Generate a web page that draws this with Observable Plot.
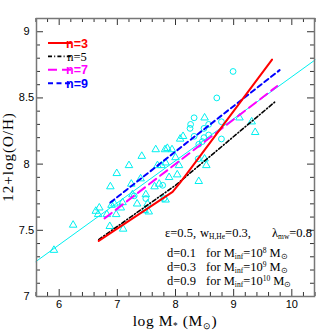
<!DOCTYPE html>
<html><head><meta charset="utf-8">
<script src="https://cdn.jsdelivr.net/npm/d3@7"></script>
<script src="https://cdn.jsdelivr.net/npm/@observablehq/plot@0.6"></script>
<style>body{margin:0;background:#fff}</style>
</head><body><div id="chart"></div>
<script>
// observed data: triangles and circles
const triX = [5.91,6.24,6.63,6.67,6.69,6.82,6.87,6.88,6.90,6.95,6.99,6.98,7.06,7.09,7.10,7.20,7.24,7.26,7.40,7.42,7.49,7.52,7.47,7.54,7.64,7.69,7.76,7.83,7.94,8.06,7.89,8.03,7.83,7.66,7.82,8.00,8.08,8.13,8.50,9.10,9.31,9.37,8.50,8.53,8.40,7.34,7.72,7.86];
const triY = [7.35,7.54,7.645,7.62,7.67,7.62,7.53,7.83,7.69,7.70,7.93,7.62,7.67,7.71,7.51,7.99,7.85,7.77,7.89,8.06,7.77,7.70,7.65,7.64,7.83,7.99,7.99,8.01,8.11,7.99,7.90,7.92,7.73,8.11,8.11,8.05,8.19,8.21,8.35,8.35,8.32,8.24,8.04,7.99,7.87,7.70,7.85,8.12];
const circX = [8.99,8.71,8.32,8.25,8.26,8.49,8.57,8.79,8.79,8.40,8.49,8.57,8.39,7.78,7.49,7.29,8.32,7.80,8.46];
const circY = [8.70,8.50,8.35,8.27,8.30,8.27,8.30,8.32,8.19,8.15,8.20,8.22,8.04,7.84,7.74,7.76,8.21,7.74,8.17];
// fit line
const fitX = [5.6, 10.4];
const fitY = [7.264, 8.787];
// model curves
const n3X = [6.68, 7.95, 8.08, 8.20, 9.66];
const n3Y = [7.42, 7.79, 7.86, 7.93, 8.79];
const n5X = [6.68, 8.00, 9.71];
const n5Y = [7.43, 7.84, 8.47];
const n7X = [6.78, 9.75];
const n7Y = [7.59, 8.59];
const n9X = [6.88, 9.79];
const n9Y = [7.71, 8.71];
// ticks
const xMajor = [6,7,8,9,10];
const xMinor = d3.range(5.6, 10.41, 0.2).map(v => +v.toFixed(1)).filter(v => !xMajor.includes(v));
const yMajor = [7,7.5,8,8.5,9];
const yMinor = d3.range(7.0, 9.11, 0.1).map(v => +v.toFixed(1)).filter(v => !yMajor.includes(v));
const legendLabels = ["n=3","n=5","n=7","n=9"];
const legendColors = ["#ff0000","#000000","#ff00ff","#0000ff"];

const zip = (xs, ys) => xs.map((x, i) => ({x, y: ys[i]}));
const W = 332, H = 332, mL = 36, mR = 18, mT = 18, mB = 36;
const pw = W - mL - mR, ph = H - mT - mB;
const cyan = "#00f0f0";
const styles = [
  {stroke: "#ff0000", strokeWidth: 2},
  {stroke: "#000000", strokeWidth: 1.6, strokeDasharray: "4,2.2,1,2.2"},
  {stroke: "#ff00ff", strokeWidth: 2, strokeDasharray: "9,5"},
  {stroke: "#0000ff", strokeWidth: 2, strokeDasharray: "5,3.5"}
];
const tickStroke = "#333";

const svg = Plot.plot({
  width: W, height: H,
  marginLeft: mL, marginRight: mR, marginTop: mT, marginBottom: mB,
  x: {domain: [5.61, 10.39]},
  y: {domain: [7, 9.1]},
  style: {background: "white", fontFamily: "Liberation Sans", fontSize: "11px", color: "#000"},
  marks: [
    Plot.line(zip(fitX, fitY), {x: "x", y: "y", stroke: cyan, strokeWidth: 1}),
    Plot.dot(zip(triX, triY), {x: "x", y: "y", symbol: "triangle", r: 2.8, stroke: cyan, strokeWidth: 1, fill: "none"}),
    Plot.dot(zip(circX, circY), {x: "x", y: "y", symbol: "circle", r: 2.9, stroke: cyan, strokeWidth: 1, fill: "none"}),
    Plot.line(zip(n5X, n5Y), {x: "x", y: "y", ...styles[1]}),
    Plot.line(zip(n7X, n7Y), {x: "x", y: "y", ...styles[2]}),
    Plot.line(zip(n9X, n9Y), {x: "x", y: "y", ...styles[3]}),
    Plot.line(zip(n3X, n3Y), {x: "x", y: "y", ...styles[0]}),
    Plot.tickX(xMajor, {x: d => d, insetTop: ph - 7, stroke: tickStroke}),
    Plot.tickX(xMajor, {x: d => d, insetBottom: ph - 7, stroke: tickStroke}),
    Plot.tickX(xMinor, {x: d => d, insetTop: ph - 4, stroke: tickStroke}),
    Plot.tickX(xMinor, {x: d => d, insetBottom: ph - 4, stroke: tickStroke}),
    Plot.tickY(yMajor, {y: d => d, insetRight: pw - 7, stroke: tickStroke}),
    Plot.tickY(yMajor, {y: d => d, insetLeft: pw - 7, stroke: tickStroke}),
    Plot.tickY(yMinor, {y: d => d, insetRight: pw - 4, stroke: tickStroke}),
    Plot.tickY(yMinor, {y: d => d, insetLeft: pw - 4, stroke: tickStroke}),
    Plot.axisX({ticks: xMajor, tickSize: 0, tickPadding: 4, label: null, fontSize: 11, tickFormat: d => String(d)}),
    Plot.axisY({ticks: yMajor, tickSize: 0, tickPadding: 10, textAnchor: "middle", label: null, fontSize: 11, tickFormat: d => String(d)}),
    Plot.frame({stroke: "#777", strokeWidth: 1.5})
  ]
});
document.getElementById("chart").appendChild(svg);

const S = d3.select(svg);
// rich text helper: parts = [[text, kind, x]] kind: "n" normal, "b" sub, "p" sup
function rich(x, y, parts, size, family, anchor, transform) {
  const t = S.append("text").attr("x", x).attr("y", y)
    .attr("font-family", family).attr("font-size", size).attr("fill", "#000")
    .attr("text-anchor", anchor || "start").attr("xml:space", "preserve");
  if (transform) t.attr("transform", transform);
  let shift = 0;
  for (const [txt, kind, px] of parts) {
    const target = kind === "b" ? size * 0.18 : kind === "p" ? -size * 0.3 : 0;
    const ts = t.append("tspan").attr("dy", target - shift).text(txt)
      .attr("font-size", kind === "n" ? size : size * 0.6);
    if (px != null) ts.attr("x", px);
    shift = target;
  }
  return t;
}

// legend
legendLabels.forEach((lab, i) => {
  const yy = 43 + i * 13.4;
  S.append("line").attr("x1", 48).attr("x2", 71).attr("y1", yy).attr("y2", yy)
    .attr("stroke", styles[i].stroke).attr("stroke-width", styles[i].strokeWidth)
    .attr("stroke-dasharray", styles[i].strokeDasharray || null);
  S.append("text").attr("x", 77).attr("y", yy).attr("dy", "0.36em")
    .attr("font-family", i === 1 ? "Liberation Serif" : "Liberation Sans")
    .attr("font-weight", i === 1 ? "normal" : "bold")
    .attr("font-size", 12.5).attr("fill", legendColors[i]).text(lab);
});

// annotations
const serif = "Liberation Serif";
rich(165, 237, [["ε=0.5,", "n"], ["w", "n", 200], ["H,He", "b"], ["=0.3,", "n"], ["λ", "n", 272], ["mw", "b"], ["=0.8", "n"]], 12.5, serif);
const dVals = ["0.1", "0.3", "0.9"];
const expVals = ["8", "9", "10"];
dVals.forEach((dv, i) => {
  rich(167, 256.5 + i * 14, [["d=" + dv, "n"], ["for M", "n", 206], ["inf", "b"], ["=10", "n"], [expVals[i], "p"], [" M", "n"], ["⊙", "b"]], 12.5, serif);
});

// axis titles
rich(13, 157, [["12+log(O/H)", "n"]], 15, serif, "middle", "rotate(-90,13,157)").attr("dy", "0.3em").attr("letter-spacing", 1);
rich(175, 326, [["log M", "n"], ["*", "b"], [" (M", "n"], ["⊙", "b"], [")", "n"]], 15.5, serif, "middle").attr("letter-spacing", 0.6);
</script>
</body></html>
